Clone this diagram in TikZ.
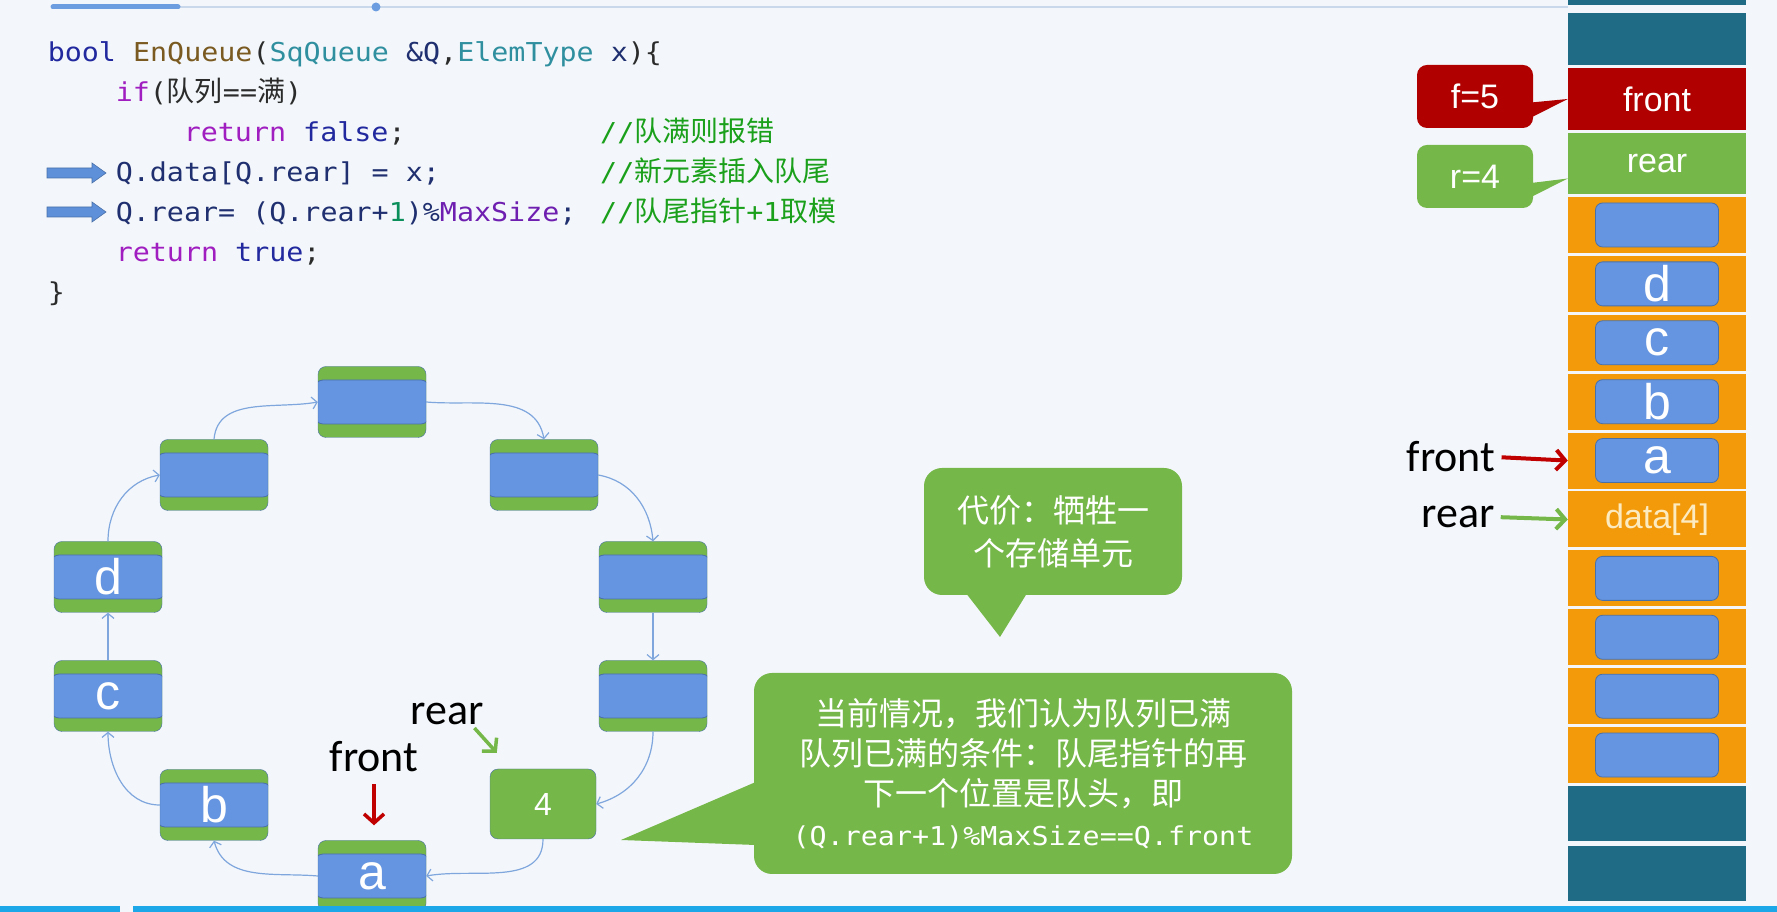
\documentclass[tikz,border=0pt]{standalone}
\usepackage{fontspec}
\setmainfont{Liberation Sans}
\newfontfamily\cjk{Noto Sans CJK SC}
\newfontfamily\codefont[FakeStretch=1.09]{DejaVu Sans Mono}
\newfontfamily\lblfont{Carlito}
\usetikzlibrary{arrows.meta, positioning, calc}

\definecolor{bgcol}{HTML}{F3F7FB}
\definecolor{topline}{HTML}{C9D8EA}
\definecolor{topknob}{HTML}{6C9DE0}
\definecolor{barblue}{HTML}{1CA7E8}
\definecolor{tealcol}{HTML}{1F6A84}
\definecolor{redcol}{HTML}{B00000}
\definecolor{greencol}{HTML}{76B749}
\definecolor{orangecol}{HTML}{F39A0B}
\definecolor{cellblue}{HTML}{6595E0}
\definecolor{celledge}{HTML}{4A70A8}
\definecolor{ringline}{HTML}{7FA6DD}
\definecolor{ptrred}{HTML}{C00000}
\definecolor{cream}{HTML}{FCEBC0}
\definecolor{codegray}{HTML}{2B2B2B}
\definecolor{kwblue}{HTML}{22299E}
\definecolor{kwpurple}{HTML}{A01EC0}
\definecolor{fnbrown}{HTML}{7A5A20}
\definecolor{typeteal}{HTML}{2F8F9F}
\definecolor{idnavy}{HTML}{1F2F6F}
\definecolor{numgreen}{HTML}{0A8F5A}
\definecolor{macropurple}{HTML}{6F1FB0}
\definecolor{cmtgreen}{HTML}{1AA01A}
\definecolor{arrowblue}{HTML}{5E90DA}

\newcommand{\zh}[1]{{\cjk\fontsize{28}{30}\selectfont #1}}

\tikzset{
  codeline/.style={anchor=base west, inner sep=0pt, text=codegray, font=\codefont\fontsize{26}{30}\selectfont},
  comment/.style={codeline, text=cmtgreen},
  codearrow/.style={fill=arrowblue, draw=celledge, line width=0.6pt},
  ringslot/.style={draw=celledge, fill=greencol, rounded corners=8pt, minimum width=108pt, minimum height=71pt,
    inner sep=0pt, text=white, font=\fontsize{50}{50}\selectfont,
    path picture={\filldraw[fill=cellblue, draw=celledge, line width=0.8pt]
      ($(path picture bounding box.west)+(-3,-22)$) rectangle ($(path picture bounding box.east)+(3,22)$);}},
  ringfull/.style={draw=celledge, fill=greencol, rounded corners=8pt, minimum width=106pt, minimum height=70pt,
    inner sep=0pt, text=white, font=\fontsize{32}{32}\selectfont},
  ringlink/.style={draw=ringline, line width=1.2pt, -{Straight Barb[length=5pt,width=12pt]}},
  cell/.style={minimum width=178pt, inner sep=0pt, text=white, font=\fontsize{34}{34}\selectfont},
  tealcell/.style={cell, fill=tealcol, minimum height=#1},
  tealcell/.default=55pt,
  mplain/.style={cell, fill=orangecol, minimum height=56pt},
  mslot/.style={mplain, font=\fontsize{50}{50}\selectfont,
    path picture={\filldraw[fill=cellblue, draw=celledge, line width=0.8pt, rounded corners=7pt]
      ($(path picture bounding box.center)+(-61.5,-22)$) rectangle ($(path picture bounding box.center)+(61.5,22)$);}},
  tagbox/.style={minimum width=116pt, minimum height=63pt, inner sep=0pt, rounded corners=10pt,
    text=white, font=\fontsize{34}{34}\selectfont},
  ptrtext/.style={inner sep=0pt, text=black, font=\lblfont\fontsize{44}{44}\selectfont},
  redptr/.style={draw=ptrred, line width=4pt, -{Straight Barb[length=9pt,width=20pt]}},
  greenptr/.style={draw=greencol, line width=4pt, -{Straight Barb[length=9pt,width=20pt]}},
  bubble/.style={fill=greencol, rounded corners=18pt, inner sep=0pt, align=center, text=white}
}

\begin{document}
\begin{tikzpicture}[x=1pt, y=1pt]

  \useasboundingbox (0,0) rectangle (1777,912);
  \fill[bgcol] (0,0) rectangle (1777,912);

  % Fortschrittsbalken oben
  \draw[line width=1.5pt, topline] (178,905) -- (1568,905);
  \draw[line width=5pt, line cap=round, topknob] (53,905) -- (178,905);
  \fill[topknob] (376,905) circle (4.5);

  % Quelltext
  \node[codeline] (cl1) at (47.6,850) {\textcolor{kwblue}{bool} \textcolor{fnbrown}{EnQueue}(\textcolor{typeteal}{SqQueue} \textcolor{idnavy}{\&Q},\textcolor{typeteal}{ElemType} \textcolor{idnavy}{x})\{};
  \node[codeline] (cl2) at (115.6,810) {\textcolor{kwpurple}{if}(\zh{队列}==\zh{满})};
  \node[codeline] (cl3) at (183.6,770) {\textcolor{kwpurple}{return} \textcolor{kwblue}{false};};
  \node[codeline, text=idnavy] (cl4) at (115.6,730) {Q.data[Q.rear] = x;};
  \node[codeline, text=idnavy] (cl5) at (115.6,690) {Q.rear= (Q.rear+\textcolor{numgreen}{1})\%\textcolor{macropurple}{MaxSize};};
  \node[codeline] (cl6) at (115.6,650) {\textcolor{kwpurple}{return} \textcolor{kwblue}{true};};
  \node[codeline] (cl7) at (47.6,610) {\}};

  % Kommentare
  \node[comment] (cm3) at (600,770) {//\zh{队满则报错}};
  \node[comment] (cm4) at (600,730) {//\zh{新元素插入队尾}};
  \node[comment] (cm5) at (600,690) {//\zh{队尾指针}+1\zh{取模}};

  % Blockpfeile vor den Zeilen
  \coordinate (pa) at (47,739);
  \coordinate (pb) at (47,700);
  \filldraw[codearrow] (pa) ++(0,5) -- ++(45,0) -- ++(0,5) -- ++(14,-10) -- ++(-14,-10) -- ++(0,5) -- ++(-45,0) -- cycle;
  \filldraw[codearrow] (pb) ++(0,5) -- ++(45,0) -- ++(0,5) -- ++(14,-10) -- ++(-14,-10) -- ++(0,5) -- ++(-45,0) -- cycle;

  % Ringpuffer
  \node[ringslot] (top) at (372,510) {};
  \node[ringslot] (ur) at (544,437) {};
  \node[ringslot] (r1) at (653,335) {};
  \node[ringslot] (r2) at (653,216) {};
  \node[ringfull] (n4) at (543,108) {4};
  \node[ringslot] (na) at (372,36) {a};
  \node[ringslot] (nb) at (214,107) {b};
  \node[ringslot] (nc) at (108,216) {c};
  \node[ringslot] (nd) at (108,335) {d};
  \node[ringslot] (ul) at (214,437) {};

  % Verbindungen im Uhrzeigersinn
  \draw[ringlink] (ul.north) to[out=85, in=190] (top.west);
  \draw[ringlink] (top.east) to[out=-5, in=100] (ur.north);
  \draw[ringlink] (ur.east) to[out=-10, in=95] (r1.north);
  \draw[ringlink] (r1.south) -- (r2.north);
  \draw[ringlink] (r2.south) to[out=-90, in=15] (n4.east);
  \draw[ringlink] (n4.south) to[out=-90, in=10] (na.east);
  \draw[ringlink] (na.west) to[out=175, in=-75] (nb.south);
  \draw[ringlink] (nb.west) to[out=180, in=-90] (nc.south);
  \draw[ringlink] (nc.north) -- (nd.south);
  \draw[ringlink] (nd.north) to[out=90, in=190] (ul.west);

  % Zeiger am Ring
  \node[ptrtext] (ringrear) at (447,198) {rear};
  \node[ptrtext] (ringfront) at (374,155) {front};
  \coordinate (reartip) at ($(n4.north west)+(7,16)$);
  \draw[greenptr, line width=3.5pt, shorten <=4pt] ([xshift=-12pt]ringrear.south east) -- (reartip);
  \draw[redptr, line width=3.5pt, shorten <=12pt, shorten >=15pt] (ringfront.south) -- (ringfront.south |- na.north);

  % Speicherspalte rechts
  \node[tealcell=15pt] (mtop) at (1657,914.5) {};
  \node[tealcell=52pt] (mtop2) at (1657,873) {};
  \node[cell, fill=redcol, minimum height=62pt] (mfront) at (1657,813) {front};
  \node[cell, fill=greencol, minimum height=61pt] (mrear) at (1657,748.5) {rear};
  \node[mslot] (m1) at (1657,687) {};
  \node[mslot, below=2.5pt of m1] (m2) {d};
  \node[mslot, below=2.5pt of m2] (m3) {c};
  \node[mslot, below=2.5pt of m3] (m4) {b};
  \node[mslot, below=2.5pt of m4] (m5) {a};
  \node[mplain, text=cream, below=2.5pt of m5] (m6) {data[4]};
  \node[mslot, below=2.5pt of m6] (m7) {};
  \node[mslot, below=2.5pt of m7] (m8) {};
  \node[mslot, below=2.5pt of m8] (m9) {};
  \node[mslot, below=2.5pt of m9] (m10) {};
  \node[tealcell, below=3pt of m10] (mbot1) {};
  \node[tealcell, below=4pt of mbot1] (mbot2) {};

  % Zeiger an der Spalte
  \node[ptrtext] (mfrontlbl) at (1451,455) {front};
  \node[ptrtext] (mrearlbl) at (1458,395) {rear};
  \draw[redptr, shorten <=6pt] (mfrontlbl.east) -- (m5.west);
  \draw[greenptr, shorten <=6pt] (mrearlbl.east) -- (m6.west);

  % f und r als Sprechblasen
  \node[tagbox, fill=redcol] (ftag) at (1475,815.5) {f=5};
  \fill[redcol] ([xshift=-2pt,yshift=-6pt]ftag.east) -- (mfront.west) -- ([xshift=-2pt,yshift=-21pt]ftag.east) -- cycle;
  \node[tagbox, fill=greencol] (rtag) at (1475,735.5) {r=4};
  \coordinate (rtip) at ([yshift=-15pt]mrear.west);
  \fill[greencol] ([xshift=-2pt,yshift=-6.5pt]rtag.east) -- (rtip) -- ([xshift=-2pt,yshift=-20.5pt]rtag.east) -- cycle;

  % Sprechblasen
  \node[bubble, minimum width=258pt, minimum height=127pt, font=\cjk\fontsize{32}{43}\selectfont] (cost) at (1053,380.5)
    {代价：牺牲一\\个存储单元};
  \coordinate (costtip) at (1000,275);
  \fill[greencol] ([xshift=-87pt,yshift=2pt]cost.south) -- (costtip) -- ([xshift=-26pt,yshift=2pt]cost.south) -- cycle;

  \node[bubble, minimum width=538pt, minimum height=201pt, font=\cjk\fontsize{32}{40}\selectfont] (full) at (1023,138.5)
    {当前情况，我们认为队列已满\\队列已满的条件：队尾指针的再\\下一个位置是队头，即\\{\codefont\fontsize{26}{40}\selectfont (Q.rear+1)\%MaxSize==Q.front}};
  \coordinate (fulltip) at (621,72);
  \fill[greencol] ([xshift=2pt,yshift=-8.5pt]full.west) -- (fulltip) -- ([xshift=2pt,yshift=-71.5pt]full.west) -- cycle;

  % Balken unten
  \fill[barblue] (0,0) rectangle (120,6);
  \fill[barblue] (133,0) rectangle (1777,6);

\end{tikzpicture}
\end{document}
